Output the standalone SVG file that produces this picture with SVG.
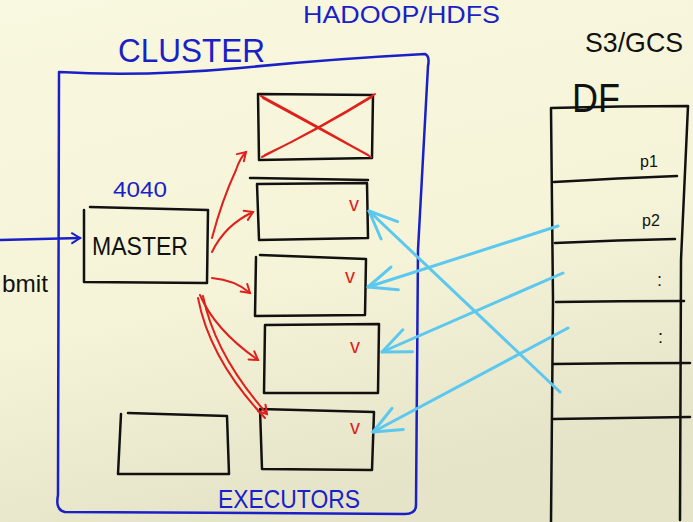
<svg xmlns="http://www.w3.org/2000/svg" width="693" height="522" viewBox="0 0 693 522">
<defs>
<linearGradient id="bg" x1="0" y1="0" x2="0.3" y2="1">
<stop offset="0" stop-color="#f9f8e0"/>
<stop offset="0.6" stop-color="#f5f4d8"/>
<stop offset="1" stop-color="#e6e4c8"/>
</linearGradient>
<marker id="cy" markerWidth="36" markerHeight="30" refX="32" refY="15" orient="auto" markerUnits="userSpaceOnUse" viewBox="0 0 36 30">
<path d="M4,3 L32,15 L4,27" fill="none" stroke="#5cc8ef" stroke-width="3" stroke-linecap="round" stroke-linejoin="round"/>
</marker>
<marker id="rd" markerWidth="14" markerHeight="14" refX="11" refY="6" orient="auto" markerUnits="userSpaceOnUse" viewBox="0 0 14 12">
<path d="M3,1 L11,6 L3,11" fill="none" stroke="#e0201c" stroke-width="2" stroke-linecap="round"/>
</marker>
<marker id="bl" markerWidth="14" markerHeight="14" refX="11" refY="6" orient="auto" markerUnits="userSpaceOnUse" viewBox="0 0 14 12">
<path d="M3,1 L11,6 L3,11" fill="none" stroke="#1a1fc8" stroke-width="2" stroke-linecap="round"/>
</marker>
</defs>
<style>
.k{fill:none;stroke:#111;stroke-width:2.5;stroke-linecap:round;stroke-linejoin:round}
.b{fill:none;stroke:#1a1fc8;stroke-width:2.5;stroke-linecap:round;stroke-linejoin:round}
.r{fill:none;stroke:#e0201c;stroke-width:2;stroke-linecap:round}
.c{fill:none;stroke:#5cc8ef;stroke-width:3;stroke-linecap:round}
.tb{font-family:"Liberation Sans",Arial,sans-serif;fill:#1a1fc8}
.tk{font-family:"Liberation Sans",Arial,sans-serif;fill:#111}
.tr{font-family:"Liberation Sans",Arial,sans-serif;fill:#e0201c}
</style>
<rect width="693" height="522" fill="url(#bg)"/>

<g id="labels">
<text class="tb" x="303" y="23" font-size="24" textLength="197" lengthAdjust="spacingAndGlyphs">HADOOP/HDFS</text>
<text class="tb" x="118" y="62" font-size="34" textLength="147" lengthAdjust="spacingAndGlyphs">CLUSTER</text>
<text class="tk" x="585" y="52" font-size="28" textLength="98" lengthAdjust="spacingAndGlyphs">S3/GCS</text>
<text class="tk" x="2" y="292" font-size="24" textLength="46" lengthAdjust="spacingAndGlyphs">bmit</text>
</g>

<g id="cluster">
<path class="b" d="M60,72 Q140,77 240,68 Q330,59 425,54 Q430,56 428,66 L418,250 L416,505 Q416,514 405,514 L65,512 Q55,510 58,495 L59,72"/>
<text class="tb" x="218" y="508" font-size="26" textLength="142" lengthAdjust="spacingAndGlyphs">EXECUTORS</text>
</g>

<g id="master">
<path class="k" d="M90,207 L208,210 L207,283 L84,282 M84,210 L84,282"/>
<text class="tb" x="113" y="197" font-size="22" textLength="54" lengthAdjust="spacingAndGlyphs">4040</text>
<text class="tk" x="92" y="255" font-size="26" textLength="96" lengthAdjust="spacingAndGlyphs">MASTER</text>
</g>

<g id="exec1">
<path class="k" d="M258,94 L373,95 L372,158 L259,160 Z"/>
<path class="r" d="M261,96 Q315,125 371,157 M263,98 Q318,128 368,155 M375,94 Q320,128 262,157 M372,97 Q318,130 265,155"/>
</g>
<g id="exec2">
<path class="k" d="M250,178 L368,180 M257,184 L367,183 L368,238 L259,240 Z"/>
<text class="tr" x="349" y="211" font-size="20">v</text>
</g>
<g id="exec3">
<path class="k" d="M260,255 L366,259 L365,315 L255,316 L256,257"/>
<text class="tr" x="345" y="283" font-size="20">v</text>
</g>
<g id="exec4">
<path class="k" d="M265,325 L379,324 L378,393 L264,393 Z"/>
<text class="tr" x="350" y="353" font-size="20">v</text>
</g>
<g id="exec5">
<path class="k" d="M260,409 L374,412 L372,470 L262,469 Z"/>
<text class="tr" x="350" y="434" font-size="20">v</text>
</g>
<g id="spare">
<path class="k" d="M128,413 L227,416 L229,474 L118,474 L121,414"/>
</g>

<g id="df">
<text class="tk" x="572" y="112" font-size="40" textLength="48" lengthAdjust="spacingAndGlyphs">DF</text>
<path class="k" d="M551,108 Q620,106 688,106 L681,260 L680,520 M551,108 L553,300 L551,522"/>
<path class="k" d="M554,182 Q620,178 677,176 M555,243 Q620,240 675,239 M556,302 Q620,301 684,301 M553,364 Q620,363 690,363 M553,419 Q620,418 690,417"/>
<text class="tk" x="640" y="167" font-size="16">p1</text>
<text class="tk" x="642" y="226" font-size="16">p2</text>
<text class="tk" x="657" y="286" font-size="18">:</text>
<text class="tk" x="658" y="343" font-size="18">:</text>
</g>

<g id="connectors">
<path class="b" d="M0,240 L80,238" marker-end="url(#bl)"/>
<path class="r" d="M212,238 Q222,200 236,170 Q240,158 246,152" marker-end="url(#rd)"/>
<path class="r" d="M212,252 Q225,225 253,212" marker-end="url(#rd)"/>
<path class="r" d="M212,278 Q235,280 250,293" marker-end="url(#rd)"/>
<path class="r" d="M200,295 Q215,330 258,360" marker-end="url(#rd)"/>
<path class="r" d="M198,298 Q210,360 265,418 M203,296 Q215,355 267,414" marker-end="url(#rd)"/>
<path class="c" d="M558,226 L368,287" marker-end="url(#cy)"/>
<path class="c" d="M563,273 L382,352" marker-end="url(#cy)"/>
<path class="c" d="M568,328 L373,432" marker-end="url(#cy)"/>
<path class="c" d="M560,392 L369,211" marker-end="url(#cy)"/>
</g>
</svg>
